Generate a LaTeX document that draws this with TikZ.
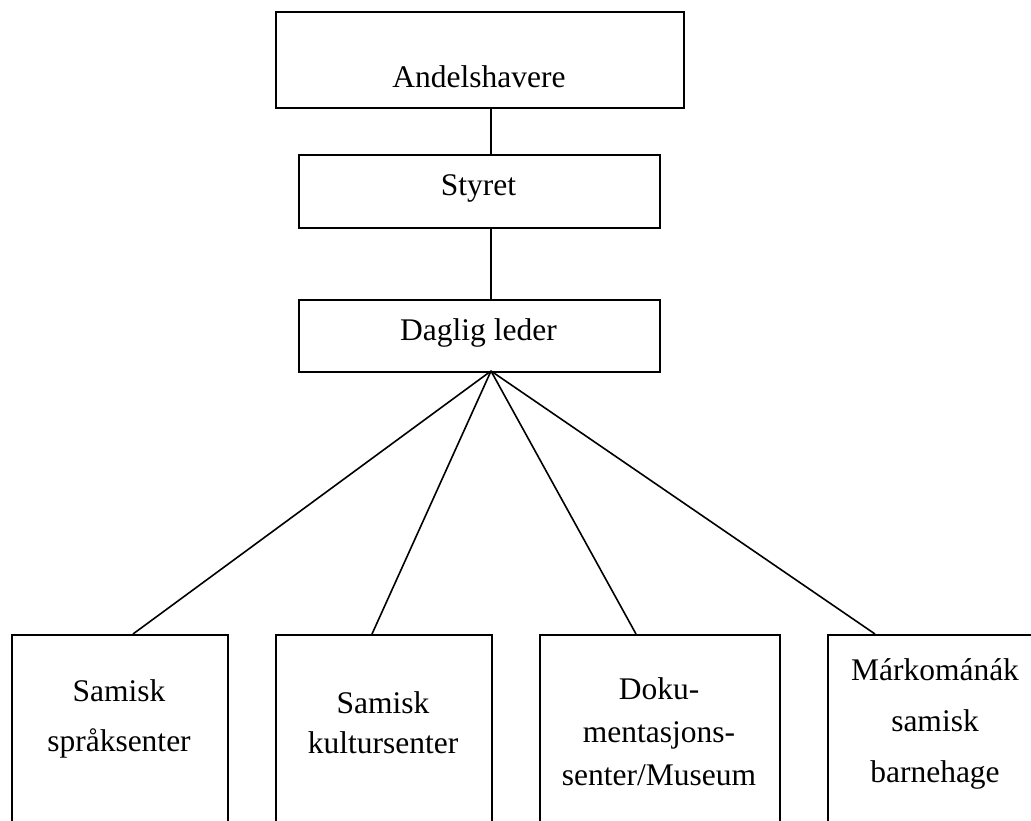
\documentclass[tikz,border=0pt]{standalone}
\usepackage{fontspec}
\setmainfont{Liberation Serif}
\begin{document}
\begin{tikzpicture}[x=1pt,y=-1pt,
  box/.style={draw=black,line width=2pt,rectangle,inner sep=0pt},
  lbl/.style={anchor=base,inner sep=0pt,font=\fontsize{31.5}{36}\selectfont},
  conn/.style={draw=black,line width=1.6pt}]
\useasboundingbox (0,0) rectangle (1031,820);
\clip (0,0) rectangle (1031,820);
% top boxes
\node[box,minimum width=408pt,minimum height=96pt,anchor=north west] (a) at (275,11) {};
\node[box,minimum width=361pt,minimum height=73pt,anchor=north west] (s) at (298,154) {};
\node[box,minimum width=361pt,minimum height=72pt,anchor=north west] (d) at (298,299) {};
\node[lbl] (ta) at (479,87) {Andelshavere};
\node[lbl] (ts) at (478.5,195) {Styret};
\node[lbl] (td) at (478.5,340) {Daglig leder};
% bottom boxes
\node[box,minimum width=216pt,minimum height=220pt,anchor=north west] (b1) at (11,634) {};
\node[box,minimum width=216pt,minimum height=220pt,anchor=north west] (b2) at (275,634) {};
\node[box,minimum width=240pt,minimum height=220pt,anchor=north west] (b3) at (539,634) {};
\node[box,minimum width=216pt,minimum height=220pt,anchor=north west] (b4) at (827,634) {};
\node[lbl] (t1a) at (119,701) {Samisk};
\node[lbl] (t1b) at (119,751) {språksenter};
\node[lbl] (t2a) at (383,713) {Samisk};
\node[lbl] (t2b) at (383,753) {kultursenter};
\node[lbl] (t3a) at (659,699) {Doku-};
\node[lbl] (t3b) at (659,742) {mentasjons-};
\node[lbl] (t3c) at (659,785) {senter/Museum};
\node[lbl] (t4a) at (935,680) {Márkománák};
\node[lbl] (t4b) at (935,731) {samisk};
\node[lbl] (t4c) at (935,782) {barnehage};
% connector anchor points
\coordinate (x) at (491,0);
\coordinate (apex) at (491,371);
\coordinate (e1) at (133,634);
\coordinate (e2) at (372,634);
\coordinate (e3) at (636,634);
\coordinate (e4) at (875,634);
\draw[conn] (a.south -| x) -- (s.north -| x);
\draw[conn] (s.south -| x) -- (d.north -| x);
\draw[conn] (apex) -- (e1);
\draw[conn] (apex) -- (e2);
\draw[conn] (apex) -- (e3);
\draw[conn] (apex) -- (e4);
\end{tikzpicture}
\end{document}
